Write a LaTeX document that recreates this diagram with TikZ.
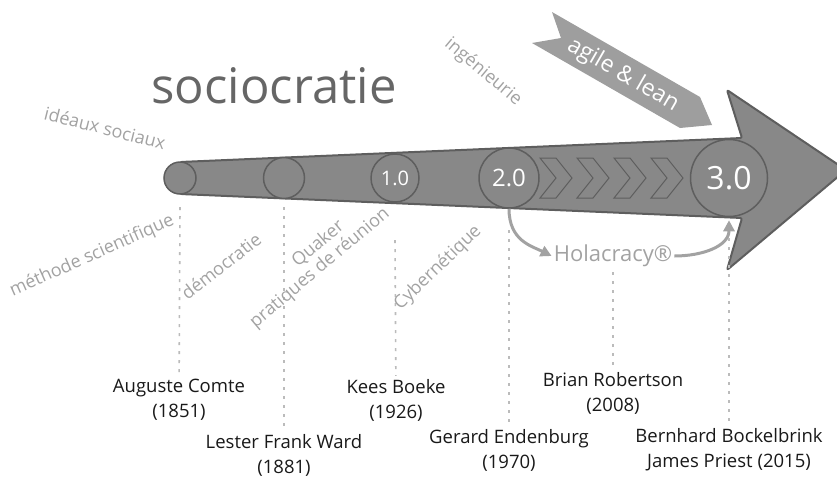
\documentclass[tikz,border=0pt]{standalone}
\usepackage{fontspec}
\setmainfont{Open Sans}
\usetikzlibrary{arrows.meta}
\definecolor{shaftgray}{HTML}{888888}
\definecolor{edgegray}{HTML}{5E5E5E}
\definecolor{palegray}{HTML}{A2A2A2}
\definecolor{titlegray}{HTML}{666666}
\definecolor{ribbongray}{HTML}{9E9E9E}
\definecolor{dotgray}{HTML}{BBBBBB}
\tikzset{stage/.style = {draw = edgegray, fill = shaftgray, circle, line width = 1.5pt, inner sep = 0, text = white}}
\tikzset{theme/.style = {text = palegray, font = \fontsize{18}{21}\selectfont, inner sep = 0}}
\tikzset{who/.style = {align = center, font = \fontsize{18.5}{25}\selectfont, text = black!90, inner sep = 3pt}}
\tikzset{guide/.style = {dotgray, line width = 1.6pt, dash pattern = on 3pt off 6pt}}
\tikzset{hola/.style = {palegray, line width = 3pt, -{Triangle[length = 11pt, width = 11pt]}}}

\begin{document}
\begin{tikzpicture}[x = 1pt, y = -1pt]
      \useasboundingbox (0, 0) rectangle (837, 477);
      \clip (0, 0) rectangle (837, 477);

      \draw [fill = shaftgray, draw = edgegray, line width = 2pt, line join = round, rounded corners = 2pt]
      (180, 162) -- (742, 138) -- (727, 90) -- (846, 170) -- (727, 270) -- (742, 218) -- (180, 194) -- cycle;
      \foreach \x in {540, 577, 614, 651}
        \draw [edgegray, line width = 1pt] (\x, 158) -- ++(16, 0) -- ++(16, 20) -- ++(-16, 20) -- ++(-16, 0) -- ++(16, -20) -- cycle;

      \node [stage, minimum size = 32pt] (c0) at (180, 178) {};
      \node [stage, minimum size = 41pt] (c1) at (284, 178) {};
      \node [stage, minimum size = 48pt, font = \fontsize{20}{20}\selectfont] (c2) at (395, 178) {1.0};
      \node [stage, minimum size = 60pt, font = \fontsize{24}{24}\selectfont] (c3) at (509, 178) {2.0};
      \node [stage, minimum size = 77pt, font = \fontsize{32}{32}\selectfont] (c4) at (729, 178) {3.0};

      \fill [ribbongray] (552, 12) -- (700, 97) -- (712, 125) -- (680, 128) -- (532, 43) -- (561, 38) -- cycle;
      \node [text = white, rotate = -30, font = \fontsize{23}{23}\selectfont] (agile) at (623, 75) {agile \& lean};

      \node [text = titlegray, font = \fontsize{49}{49}\selectfont, anchor = base] (title) at (274, 103) {sociocratie};

      \node [text = palegray, font = \fontsize{22}{22}\selectfont, inner sep = 2pt] (holo) at (613, 256) {Holacracy®};
      \draw [hola] (c3.south) .. controls +(0, 32) and +(-20, -10) .. (holo.west);
      \draw [hola] (holo.east) .. controls +(28, 0) and +(0, 26) .. ([yshift = -3pt]c4.south);

      \node [who] (comte) at (179, 400) {Auguste Comte\\(1851)};
      \node [who] (ward) at (284, 455) {Lester Frank Ward\\(1881)};
      \node [who] (boeke) at (396, 400) {Kees Boeke\\(1926)};
      \node [who] (endenburg) at (509, 450) {Gerard Endenburg\\(1970)};
      \node [who] (robertson) at (613, 393) {Brian Robertson\\(2008)};
      \node [who] (bockelbrink) at (729, 450) {Bernhard Bockelbrink\\James Priest (2015)};

      \draw [guide] (c0 |- 0, 207) -- (comte);
      \draw [guide] (c1 |- 0, 207) -- (ward);
      \draw [guide] (c2 |- 0, 240) -- (boeke);
      \draw [guide] (c3 |- 0, 230) -- (endenburg);
      \draw [guide] (holo |- 0, 272) -- (robertson);
      \draw [guide] (c4 |- 0, 238) -- (bockelbrink);

      \node [theme, rotate = -14] (ideaux) at (105, 128) {idéaux sociaux};
      \node [theme, rotate = 24] (methode) at (92, 256) {méthode scientifique};
      \node [theme, rotate = 38] (democratie) at (221, 266) {démocratie};
      \node [theme, rotate = 40] (quaker) at (318, 244) {Quaker};
      \node [theme, rotate = 40] (reunion) at (320, 268) {pratiques de réunion};
      \node [theme, rotate = 44] (cyber) at (438, 268) {Cybernétique};
      \node [theme, rotate = -40] (inge) at (483, 72) {ingénieurie};
    \end{tikzpicture}
\end{document}
